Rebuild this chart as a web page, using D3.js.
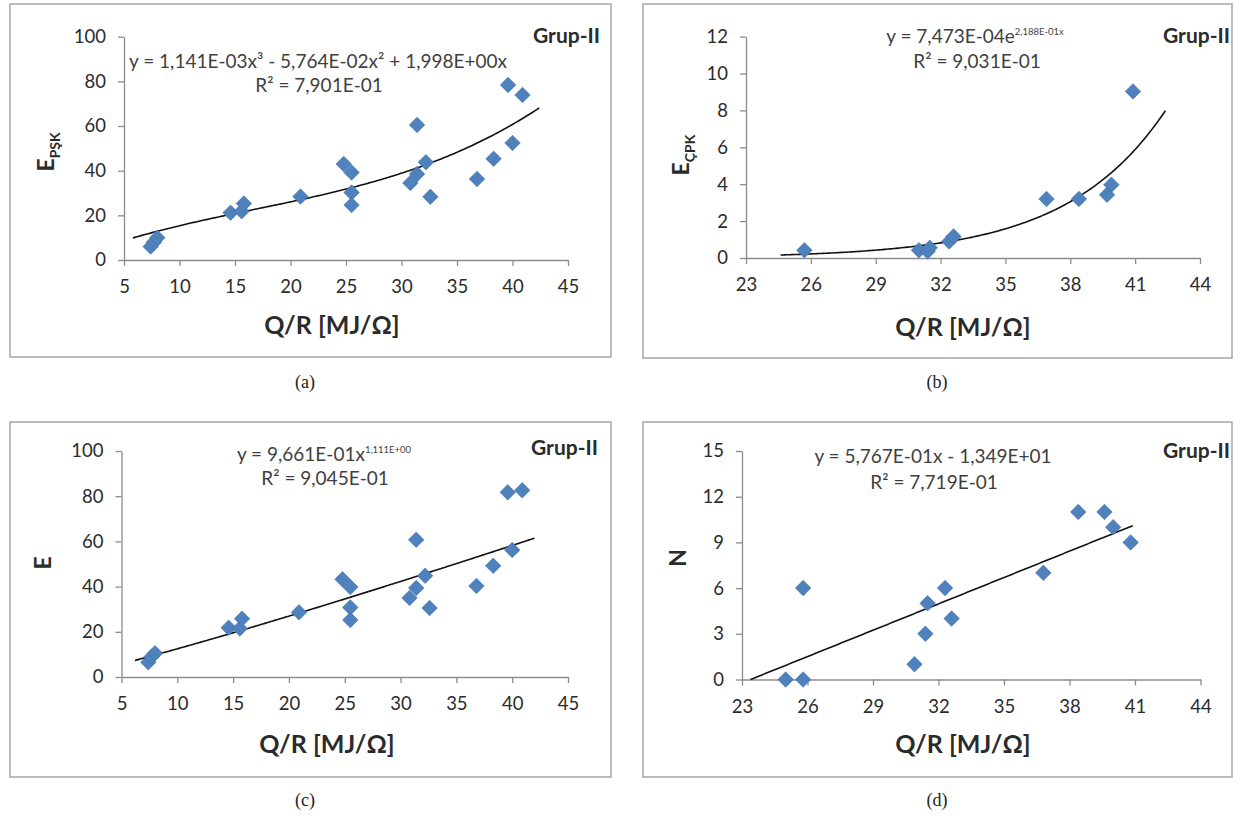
<!DOCTYPE html>
<html>
<head>
<meta charset="utf-8">
<script src="https://cdn.jsdelivr.net/npm/d3@7"></script>
<style>
  html, body { margin: 0; padding: 0; background: #fff; }
  svg { display: block; }
</style>
</head>
<body>
<svg id="chart" width="1242" height="821"></svg>
<script>
// ---------------- DATA ----------------
// Panels (a) and (c): Q/R values
const qrAC = [7.4, 7.7, 8.0, 14.6, 15.6, 15.8, 20.9, 24.8, 25.5, 25.5, 25.5, 30.8, 31.4, 31.4, 32.2, 32.6, 36.8, 38.3, 39.6, 40.0, 40.9];
// Panel (a): E_PŞK
const ePSK = [6, 8, 10, 21.2, 21.8, 25.3, 28.4, 43.0, 39.2, 30.2, 24.6, 34.5, 38.5, 60.5, 43.8, 28.3, 36.3, 45.3, 78.4, 52.4, 73.9];
// Panel (c): E
const eTot = [6.5, 9, 10.5, 21.8, 21.5, 25.8, 28.6, 43.2, 39.8, 30.8, 25.2, 35.0, 39.4, 60.7, 44.8, 30.5, 40.3, 49.2, 81.7, 56.2, 82.6];
// Panel (b): Q/R and E_ÇPK
const qrB = [25.7, 31.0, 31.4, 31.5, 32.4, 32.6, 36.9, 38.4, 39.7, 39.9, 40.9];
const eCPK = [0.42, 0.42, 0.36, 0.55, 0.9, 1.17, 3.2, 3.2, 3.43, 3.97, 9.03];
// Panel (d): Q/R and N
const qrD = [25.0, 25.8, 25.8, 30.9, 31.4, 31.5, 32.3, 32.6, 36.8, 38.4, 39.6, 40.0, 40.8];
const nVal = [0, 0, 6, 1, 3, 5, 6, 4, 7, 11, 11, 10, 9];

// Tick values
const xTicksAC = [5, 10, 15, 20, 25, 30, 35, 40, 45];
const yTicksAC = [0, 20, 40, 60, 80, 100];
const xTicksBD = [23, 26, 29, 32, 35, 38, 41, 44];
const yTicksB = [0, 2, 4, 6, 8, 10, 12];
const yTicksD = [0, 3, 6, 9, 12, 15];

// Trend line coefficients (as printed on the chart) and x-extent
const polyA = [1.141e-3, -5.764e-2, 1.998];   // a x^3 + b x^2 + c x
const expB = [7.473e-4, 2.188e-1];            // a e^(b x)
const powC = [9.661e-1, 1.111];               // a x^b
const linD = [5.767e-1, -1.349e+1];           // a x + b
const trendRangeA = [5.8, 42.4];
const trendRangeB = [24.6, 42.4];
const trendRangeC = [6.2, 42.0];
const trendRangeD = [23.39, 40.9];

// Texts
const eqA = "y = 1,141E-03x³ - 5,764E-02x² + 1,998E+00x";
const r2A = "R² = 7,901E-01";
const eqB = ["y = 7,473E-04e", "2,188E-01x"];
const r2B = "R² = 9,031E-01";
const eqC = ["y = 9,661E-01x", "1,111E+00"];
const r2C = "R² = 9,045E-01";
const eqD = "y = 5,767E-01x - 1,349E+01";
const r2D = "R² = 7,719E-01";
const groupLabel = "Grup-II";
const xTitle = "Q/R [MJ/Ω]";

// ---------------- DRAWING ----------------
const svg = d3.select("#chart");
const FONT = "Lato, 'Open Sans', 'DejaVu Sans', sans-serif";
const MARK = "#4F81BD";

function panel(cfg) {
  const g = svg.append("g");
  // border
  g.append("rect")
    .attr("x", cfg.box[0]).attr("y", cfg.box[1])
    .attr("width", cfg.box[2] - cfg.box[0]).attr("height", cfg.box[3] - cfg.box[1])
    .attr("fill", "none").attr("stroke", "#a6a6a6").attr("stroke-width", 1.5);

  const x = d3.scaleLinear().domain(cfg.xDomain).range([cfg.plot[0], cfg.plot[1]]);
  const y = d3.scaleLinear().domain(cfg.yDomain).range([cfg.plot[3], cfg.plot[2]]);

  const xAxis = d3.axisBottom(x).tickValues(cfg.xTicks).tickSize(6).tickSizeOuter(0).tickPadding(14);
  const yAxis = d3.axisLeft(y).tickValues(cfg.yTicks).tickSize(6).tickSizeOuter(0).tickPadding(12);

  const gx = g.append("g").attr("transform", `translate(0,${cfg.plot[3]})`).call(xAxis);
  const gy = g.append("g").attr("transform", `translate(${cfg.plot[0]},0)`).call(yAxis);
  [gx, gy].forEach(a => {
    a.select(".domain").attr("stroke", "#8c8c8c").attr("stroke-width", 1.3);
    a.selectAll(".tick line").attr("stroke", "#8c8c8c").attr("stroke-width", 1.3);
    a.selectAll(".tick text").attr("fill", "#2b2b2b").style("font-family", FONT).style("font-size", "18.5px");
  });

  // trendline
  const xs = d3.range(0, 201).map(i => cfg.trendRange[0] + (cfg.trendRange[1] - cfg.trendRange[0]) * i / 200);
  g.append("path")
    .datum(xs)
    .attr("fill", "none").attr("stroke", "#111").attr("stroke-width", 1.6)
    .attr("d", d3.line().x(d => x(d)).y(d => y(cfg.fn(d))));

  // markers
  const sym = d3.symbol().type(d3.symbolSquare).size(120);
  g.selectAll("path.pt")
    .data(cfg.xs.map((v, i) => [v, cfg.ys[i]]))
    .join("path").attr("class", "pt")
    .attr("d", sym)
    .attr("transform", d => `translate(${x(d[0])},${y(d[1])}) rotate(45)`)
    .attr("fill", MARK).attr("stroke", "#4372ad").attr("stroke-width", 0.6);

  // equation
  const eq = g.append("text")
    .attr("x", cfg.eqPos[0]).attr("y", cfg.eqPos[1])
    .attr("text-anchor", "middle")
    .attr("fill", "#3f3f3f").style("font-family", FONT).style("font-size", "19px");
  if (Array.isArray(cfg.eq)) {
    eq.append("tspan").text(cfg.eq[0]);
    eq.append("tspan").attr("dy", -8).style("font-size", "9.5px").text(cfg.eq[1]);
  } else {
    eq.text(cfg.eq);
  }
  g.append("text")
    .attr("x", cfg.r2Pos[0]).attr("y", cfg.r2Pos[1])
    .attr("text-anchor", "middle")
    .attr("fill", "#3f3f3f").style("font-family", FONT).style("font-size", "19px")
    .text(cfg.r2);

  // group label
  g.append("text")
    .attr("x", cfg.grpPos[0]).attr("y", cfg.grpPos[1])
    .attr("text-anchor", "end")
    .attr("fill", "#2b2b2b").style("font-family", FONT).style("font-size", "21px").style("font-weight", "bold")
    .text(groupLabel);

  // x title
  g.append("text")
    .attr("x", cfg.xtPos[0]).attr("y", cfg.xtPos[1])
    .attr("text-anchor", "middle")
    .attr("fill", "#2b2b2b").style("font-family", FONT).style("font-size", "25px").style("font-weight", "bold")
    .text(xTitle);

  // y title
  const yt = g.append("text")
    .attr("transform", `translate(${cfg.ytPos[0]},${cfg.ytPos[1]}) rotate(-90)`)
    .attr("text-anchor", "middle")
    .attr("fill", "#2b2b2b").style("font-family", FONT).style("font-size", "23px").style("font-weight", "bold");
  yt.append("tspan").text(cfg.yTitle[0]);
  if (cfg.yTitle[1]) {
    yt.append("tspan").attr("dy", 6).style("font-size", "14px").text(cfg.yTitle[1]);
  }

  // caption
  svg.append("text")
    .attr("x", cfg.capPos[0]).attr("y", cfg.capPos[1])
    .attr("text-anchor", "middle")
    .attr("fill", "#222").style("font-family", "'Liberation Serif', 'Times New Roman', serif").style("font-size", "18px")
    .text(cfg.caption);
}

panel({
  box: [10, 4, 611, 357], plot: [124, 568, 36.7, 260],
  xDomain: [5, 45], yDomain: [0, 100], xTicks: xTicksAC, yTicks: yTicksAC,
  xs: qrAC, ys: ePSK, trendRange: trendRangeA,
  fn: v => polyA[0] * v * v * v + polyA[1] * v * v + polyA[2] * v,
  eq: eqA, r2: r2A, eqPos: [318, 68], r2Pos: [319, 92], grpPos: [600, 43],
  xtPos: [332, 334], ytPos: [54, 152], yTitle: ["E", "PŞK"], capPos: [305, 388], caption: "(a)"
});
panel({
  box: [643, 4, 1232, 358], plot: [746, 1200, 36.6, 258],
  xDomain: [23, 44], yDomain: [0, 12], xTicks: xTicksBD, yTicks: yTicksB,
  xs: qrB, ys: eCPK, trendRange: trendRangeB,
  fn: v => expB[0] * Math.exp(expB[1] * v),
  eq: eqB, r2: r2B, eqPos: [975, 43], r2Pos: [977, 68], grpPos: [1230, 43],
  xtPos: [963, 336], ytPos: [689, 155], yTitle: ["E", "ÇPK"], capPos: [937, 388], caption: "(b)"
});
panel({
  box: [10, 422, 611, 777], plot: [121.5, 568, 451, 677],
  xDomain: [5, 45], yDomain: [0, 100], xTicks: xTicksAC, yTicks: yTicksAC,
  xs: qrAC, ys: eTot, trendRange: trendRangeC,
  fn: v => powC[0] * Math.pow(v, powC[1]),
  eq: eqC, r2: r2C, eqPos: [324, 461], r2Pos: [325, 485], grpPos: [598, 455],
  xtPos: [327, 753], ytPos: [51, 563], yTitle: ["E", null], capPos: [305, 806], caption: "(c)"
});
panel({
  box: [643, 422, 1232, 777], plot: [742, 1200.5, 451, 679.5],
  xDomain: [23, 44], yDomain: [0, 15], xTicks: xTicksBD, yTicks: yTicksD,
  xs: qrD, ys: nVal, trendRange: trendRangeD,
  fn: v => linD[0] * v + linD[1],
  eq: eqD, r2: r2D, eqPos: [933, 463], r2Pos: [934, 489], grpPos: [1230, 458],
  xtPos: [963, 753], ytPos: [686, 558], yTitle: ["N", null], capPos: [937, 806], caption: "(d)"
});
</script>
</body>
</html>
